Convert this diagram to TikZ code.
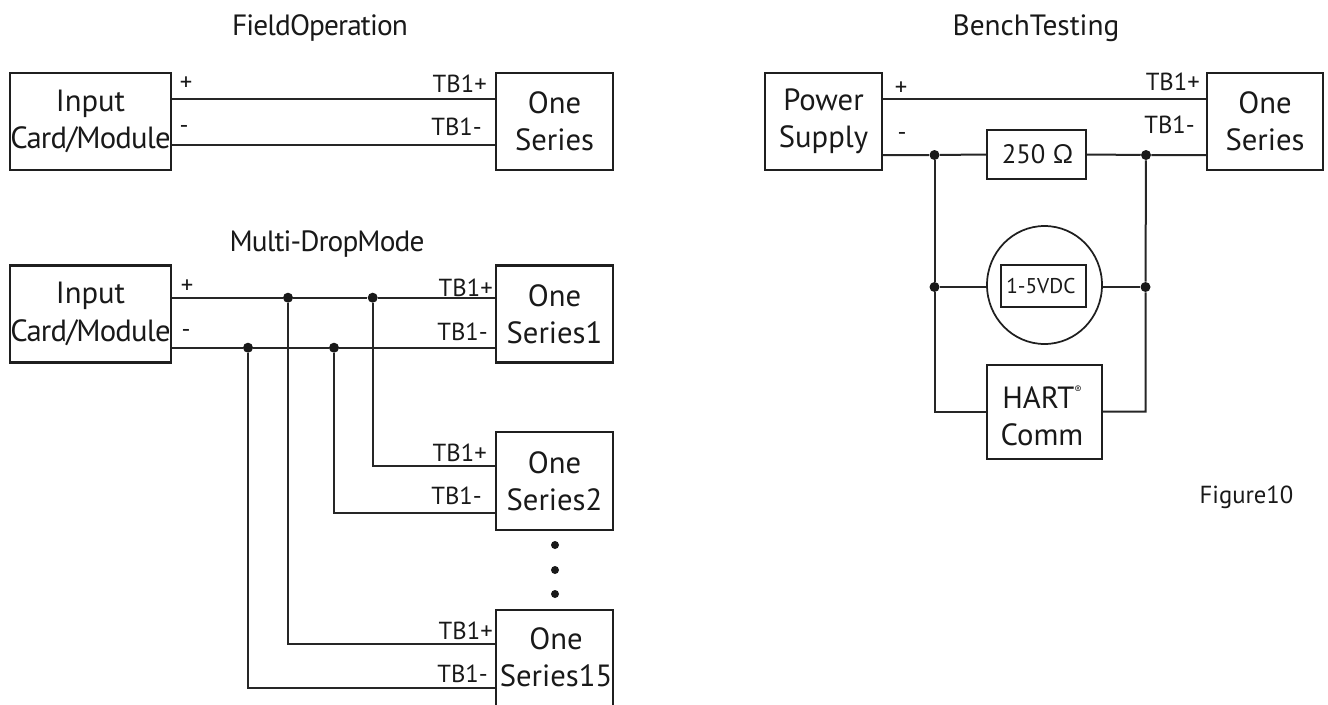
\documentclass[tikz,border=0pt]{standalone}
\usepackage{fontspec}
\usetikzlibrary{shapes.geometric}
\setmainfont{PT Sans}
\newcommand{\tight}{\addfontfeature{LetterSpace=-3}}
\newcommand{\cardmod}{{\addfontfeature{LetterSpace=-2.6}Card/Module}}
\begin{document}
\begin{tikzpicture}[x=0.75pt,y=-0.75pt,
  wh/.style 2 args={minimum width=#1*0.75pt,minimum height=#2*0.75pt},
  box/.style={draw=black!88,line width=1.7pt,inner sep=0pt,rectangle},
  wire/.style={draw=black!85,line width=1.5pt},
  big/.style={font=\fontsize{23}{28}\selectfont,align=center,text=black!90,inner sep=0pt},
  lab/.style={font=\fontsize{18.5}{22}\selectfont,inner sep=0pt,text=black!90},
  ttl/.style={font=\fontsize{22}{26}\selectfont,inner sep=0pt,text=black!90,anchor=base},
  jn/.style={circle,fill=black!90,inner sep=0pt,minimum size=7.5pt,draw=none}]
\useasboundingbox (0,0) rectangle (1328,704);
% titles
\node[ttl] (t1) at (320,35) {\tight FieldOperation};
\node[ttl] (t2) at (327,251) {\tight Multi-DropMode};
\node[ttl] (t3) at (1036,35) {BenchTesting};
\node[ttl,font=\fontsize{18.5}{22}\selectfont] (t4) at (1246.5,503) {Figure10};
% row coordinates
\coordinate (a) at (0,98.5);
\coordinate (b) at (0,145);
\coordinate (c) at (0,297.7);
\coordinate (d) at (0,347.7);
\coordinate (e) at (0,466);
\coordinate (f) at (0,512.5);
\coordinate (g) at (0,644);
\coordinate (h) at (0,688);
\coordinate (i) at (0,155);
\coordinate (j) at (0,287);
\coordinate (k) at (0,411.5);
% field operation
\node[box,big,wh={161}{97}] (in1) at (90.5,121.5) {Input\\\cardmod};
\node[box,big,wh={117}{97}] (one1) at (554.5,121.5) {One\\Series};
\draw[wire] (in1.east |- a) -- (one1.west |- a);
\draw[wire] (in1.east |- b) -- (one1.west |- b);
\node[lab] (p1) at (186,84) {+};
\node[lab] (m1) at (184,129) {-};
\node[lab,anchor=east] (tp1) at (487,84) {TB1+};
\node[lab,anchor=east] (tm1) at (482,127) {TB1-};
% multi-drop
\node[box,big,wh={161}{97}] (in2) at (90.5,314) {Input\\\cardmod};
\node[box,big,wh={117}{97}] (s1) at (554.5,314) {One\\Series1};
\node[box,big,wh={117}{98}] (s2) at (554.5,481) {One\\Series2};
\node[box,wh={117}{115}] (s15) at (554.5,667.5) {};
\node[big] (s15t) at (556,657) {One\\Series15};
\node[jn] (j1) at (288,297.7) {};
\node[jn] (j2) at (372.7,297.7) {};
\node[jn] (j3) at (248,347.7) {};
\node[jn] (j4) at (334,347.7) {};
\draw[wire] (in2.east |- c) -- (j1) -- (j2) -- (s1.west |- c);
\draw[wire] (in2.east |- d) -- (j3) -- (j4) -- (s1.west |- d);
\draw[wire] (j2) |- (s2.west |- e);
\draw[wire] (j4) |- (s2.west |- f);
\draw[wire] (j1) |- (s15.west |- g);
\draw[wire] (j3) |- (s15.west |- h);
\node[lab] (p2) at (187,287) {+};
\node[lab] (m2) at (186,333) {-};
\node[lab,anchor=east] (tp2) at (493,288) {TB1+};
\node[lab,anchor=east] (tm2) at (488,332) {TB1-};
\node[lab,anchor=east] (tp3) at (487,453) {TB1+};
\node[lab,anchor=east] (tm3) at (482,496) {TB1-};
\node[lab,anchor=east] (tp4) at (493,631) {TB1+};
\node[lab,anchor=east] (tm4) at (488,674) {TB1-};
\node[jn,minimum size=6pt] (d1) at (555,545) {};
\node[jn,minimum size=6pt] (d2) at (555,570) {};
\node[jn,minimum size=6pt] (d3) at (555,594) {};
% bench testing
\node[box,big,wh={117}{97}] (ps) at (823.5,121.5) {Power\\Supply};
\node[box,big,wh={116}{97}] (one3) at (1265,121.5) {One\\Series};
\node[box,big,wh={99}{49},font=\fontsize{20}{24}\selectfont] (r) at (1036.5,154.5) {\hspace*{2pt}250 Ω};
\node[draw=black!88,line width=1.3pt,ellipse,inner sep=0pt,wh={115}{118}] (v) at (1044.5,285) {};
\node[draw=black!88,line width=1.4pt,inner sep=0pt,wh={85}{42},font=\fontsize{16}{19}\selectfont,text=black!90] (vb) at (1043.5,286) {1-5VDC\hspace*{4pt}};
\node[box,wh={115}{94}] (hc) at (1044.5,412) {};
\node[big] (hct) at (1042,416) {HART\raisebox{11pt}{\fontsize{8}{8}\selectfont ®}\\Comm};
\node[jn] (j5) at (934.5,155) {};
\node[jn] (j6) at (1146,155) {};
\node[jn] (j7) at (934.5,287) {};
\node[jn] (j8) at (1145.5,287) {};
\draw[wire] (ps.east |- a) -- (one3.west |- a);
\draw[wire] (ps.east |- i) -- (j5) -- (r.west);
\draw[wire] (r.east) -- (j6) -- (one3.west |- i);
\draw[wire] (j7) -- (v.west |- j);
\draw[wire] (v.east |- j) -- (j8);
\draw[wire] (j5) -- (j7) |- (hc.west |- k);
\draw[wire] (j6) -- (j8) |- (hc.east |- k);
\node[lab] (p3) at (901,89) {+};
\node[lab] (m3) at (902,136) {-};
\node[lab,anchor=east] (tp5) at (1200,82) {TB1+};
\node[lab,anchor=east] (tm5) at (1195,125) {TB1-};
\end{tikzpicture}
\end{document}
